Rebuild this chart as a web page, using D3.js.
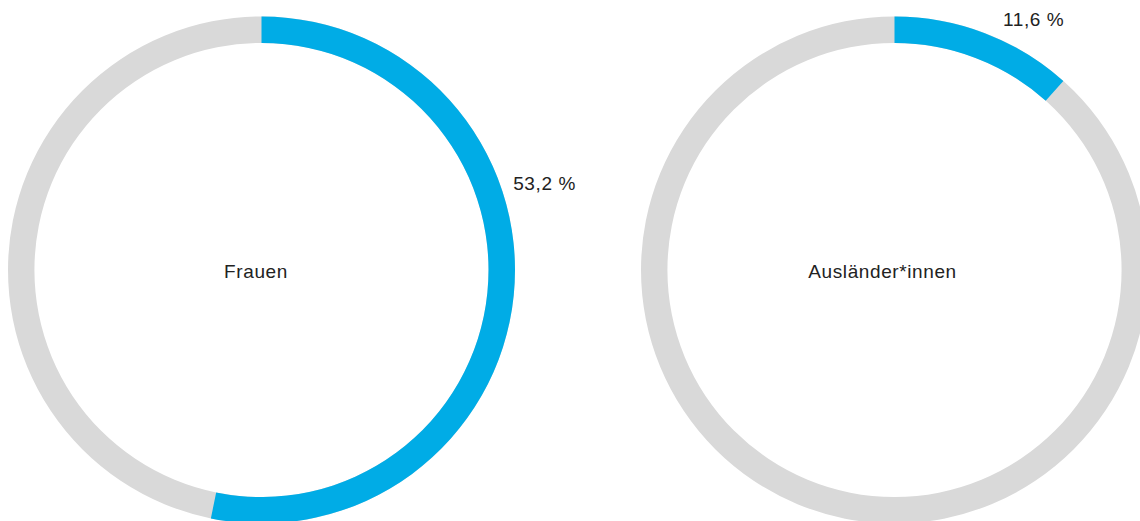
<!DOCTYPE html>
<html><head><meta charset="utf-8">
<script src="https://cdn.jsdelivr.net/npm/d3@7"></script>
<style>
html,body{margin:0;padding:0;background:#fff;overflow:hidden}
text{font-family:"Liberation Sans",Arial,sans-serif;fill:#222;letter-spacing:0.6px}
</style></head>
<body>
<svg id="chart" width="1140" height="521"></svg>
<script>
const categories = ["Frauen", "Ausländer*innen"];
const shares = [53.2, 11.6];
const valueLabels = ["53,2 %", "11,6 %"];

const W = 1140, H = 521;
const svg = d3.select("#chart");
const x = d3.scaleBand().domain(categories).range([-55, 1211]);
const cy = 270;
const outerR = 253.5, innerR = 227;
const share = d3.scaleLinear().domain([0, 100]).range([0, 2 * Math.PI]);
const arc = d3.arc().innerRadius(innerR).outerRadius(outerR);

// label placement (angle in degrees from top, radius)
const labelPos = [{a: 73, r: 296, dx: 0}, {a: 29, r: 287, dx: 0}];
const centerDx = [-5.5, -12];

categories.forEach((c, i) => {
  const cx = x(c) + x.bandwidth() / 2;
  const g = svg.append("g").attr("transform", `translate(${cx},${cy})`);
  g.append("path").attr("d", arc({startAngle: 0, endAngle: 2 * Math.PI})).attr("fill", "#d9d9d9");
  g.append("path").attr("d", arc({startAngle: 0, endAngle: share(shares[i])})).attr("fill", "#00ace6");
  const a = labelPos[i].a * Math.PI / 180;
  g.append("text")
    .attr("x", labelPos[i].r * Math.sin(a))
    .attr("y", -labelPos[i].r * Math.cos(a))
    .attr("dy", "0.35em")
    .attr("text-anchor", "middle")
    .style("font-size", "19px")
    .text(valueLabels[i]);
  g.append("text")
    .attr("x", centerDx[i])
    .attr("y", 8)
    .attr("text-anchor", "middle")
    .style("font-size", "19px")
    .text(c);
});
</script>
</body></html>
